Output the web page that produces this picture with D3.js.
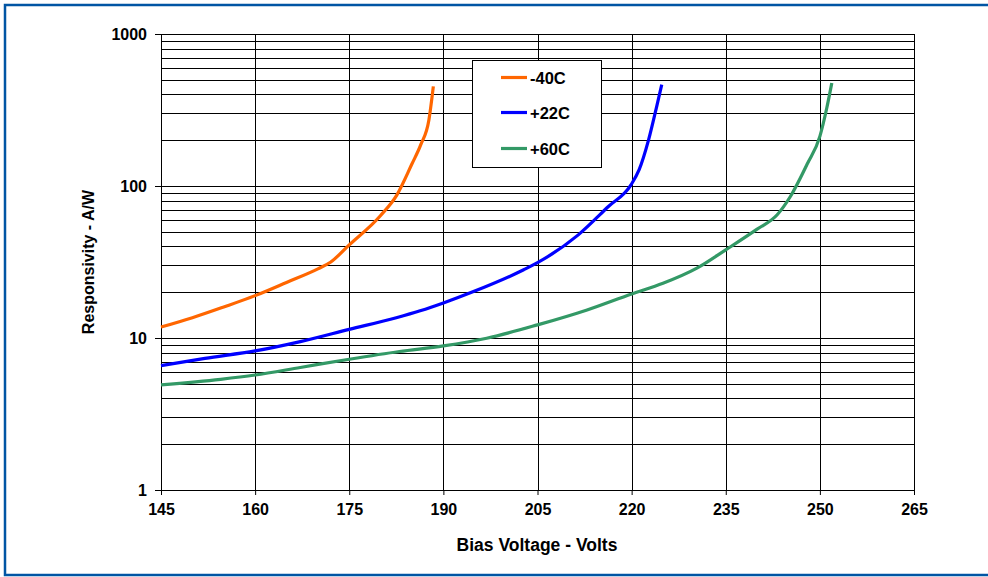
<!DOCTYPE html>
<html>
<head>
<meta charset="utf-8">
<script src="https://cdn.jsdelivr.net/npm/d3@7"></script>
<style>
html,body{margin:0;padding:0;background:#fff;}
svg{display:block;font-family:Arial,"Liberation Sans",sans-serif;font-weight:bold;}
</style>
</head>
<body>
<svg id="chart" width="988" height="577"></svg>
<script>
// ---- data ----
const seriesNames = ["-40C", "+22C", "+60C"];
const seriesColors = ["#FF6600", "#0000FF", "#339966"];

const voltsM40 = [145, 150, 155, 160, 165, 170, 172, 175, 180, 182.6, 185, 186.4, 187.7, 188.4];
const respM40  = [11.8, 13.6, 16.0, 19.0, 23.2, 28.5, 31.5, 41, 64, 87.5, 140, 187, 273, 452];

const voltsP22 = [145, 152, 160, 167.2, 175, 182.5, 186.3, 190, 194.8, 202.8, 205, 211.5, 216.3, 219.9, 221.2, 222.7, 224.0, 224.8];
const respP22  = [6.58, 7.35, 8.22, 9.47, 11.4, 13.6, 15.1, 17.0, 20.2, 28.1, 31.3, 47.7, 73.3, 101.8, 128, 201, 334, 464];

const voltsP60 = [145, 154.5, 160, 167.2, 175, 183, 190, 196.9, 205, 212.9, 220, 225, 230.4, 235, 240, 243.2, 245.3, 248, 250, 251.1, 251.9];
const respP60  = [4.91, 5.35, 5.71, 6.4, 7.25, 8.15, 8.87, 9.96, 12.2, 15.3, 19.5, 22.9, 28.8, 38, 52, 64.7, 85.3, 140, 212, 326, 476];

const xTicks = [145, 160, 175, 190, 205, 220, 235, 250, 265];
const yMajorTicks = [1, 10, 100, 1000];
const xTitle = "Bias Voltage - Volts";
const yTitle = "Responsivity - A/W";

// ---- layout ----
const svg = d3.select("#chart");
const L = 161, R = 914, T = 34, B = 490;

const x = d3.scaleLinear().domain([145, 265]).range([L, R]);
const y = d3.scaleLog().domain([1, 1000]).range([B, T]);

// outer frame
svg.append("rect").attr("x", 5).attr("y", 5).attr("width", 1000).attr("height", 570)
  .attr("fill", "none").attr("stroke", "#0055A4").attr("stroke-width", 2.5);

// minor + major horizontal grid
const yGrid = [];
for (let d = 1; d < 1000; d *= 10) for (let k = 1; k <= 9; k++) yGrid.push(d * k);
yGrid.push(1000);

const grid = svg.append("g").attr("shape-rendering", "crispEdges");
grid.selectAll("line.h").data(yGrid).join("line")
  .attr("x1", L).attr("x2", R)
  .attr("y1", d => Math.round(y(d)) + 0.5).attr("y2", d => Math.round(y(d)) + 0.5)
  .attr("stroke", "#000").attr("stroke-width", 1);
grid.selectAll("line.v").data(xTicks).join("line")
  .attr("y1", T).attr("y2", B)
  .attr("x1", d => Math.round(x(d)) + 0.5).attr("x2", d => Math.round(x(d)) + 0.5)
  .attr("stroke", "#000").attr("stroke-width", 1);

// axes
const xAxis = d3.axisBottom(x).tickValues(xTicks).tickSize(5).tickPadding(9).tickFormat(d3.format("d"));
const gx = svg.append("g").attr("transform", `translate(0,${B})`).call(xAxis);
gx.select(".domain").attr("stroke", "#000");
gx.selectAll(".tick line").attr("stroke", "#000");
gx.selectAll("text").attr("font-size", 16).attr("font-weight", "bold").attr("fill", "#000")
  .attr("font-family", "Arial, 'Liberation Sans', sans-serif");

const yAxis = d3.axisLeft(y).tickValues(yMajorTicks).tickSize(6).tickPadding(8).tickFormat(d3.format("d"));
const gy = svg.append("g").attr("transform", `translate(${L},0)`).call(yAxis);
gy.select(".domain").attr("stroke", "#000");
gy.selectAll(".tick line").attr("stroke", "#000");
gy.selectAll("text").attr("font-size", 16).attr("font-weight", "bold").attr("fill", "#000")
  .attr("font-family", "Arial, 'Liberation Sans', sans-serif");

// right border of plot
svg.append("line").attr("x1", R + 0.5).attr("x2", R + 0.5).attr("y1", T).attr("y2", B)
  .attr("stroke", "#000").attr("shape-rendering", "crispEdges");

// titles
svg.append("text").attr("x", 537).attr("y", 551).attr("text-anchor", "middle")
  .attr("font-size", 17.5).text(xTitle);
svg.append("text").attr("transform", `translate(94,${(T + B) / 2}) rotate(-90)`).attr("text-anchor", "middle")
  .attr("font-size", 16).text(yTitle);

// series
const series = [
  {name: seriesNames[0], color: seriesColors[0], xs: voltsM40, ys: respM40},
  {name: seriesNames[1], color: seriesColors[1], xs: voltsP22, ys: respP22},
  {name: seriesNames[2], color: seriesColors[2], xs: voltsP60, ys: respP60}
];
const line = d3.line().x(d => x(d[0])).y(d => y(d[1])).curve(d3.curveMonotoneX);
svg.append("g").selectAll("path").data(series).join("path")
  .attr("d", s => line(s.xs.map((v, i) => [v, s.ys[i]])))
  .attr("fill", "none").attr("stroke", s => s.color).attr("stroke-width", 3.2)
  .attr("stroke-linejoin", "round");

// legend
const lg = svg.append("g");
lg.append("rect").attr("x", 472).attr("y", 60.5).attr("width", 129.5).attr("height", 107)
  .attr("fill", "#fff").attr("stroke", "#000").attr("stroke-width", 1).attr("shape-rendering", "crispEdges");
const ly = [77.5, 112.5, 148.5];
series.forEach((s, i) => {
  lg.append("line").attr("x1", 501).attr("x2", 527).attr("y1", ly[i]).attr("y2", ly[i])
    .attr("stroke", s.color).attr("stroke-width", 3.2);
  lg.append("text").attr("x", 530).attr("y", ly[i] + 6).attr("font-size", 16.5).text(s.name);
});
</script>
</body>
</html>
